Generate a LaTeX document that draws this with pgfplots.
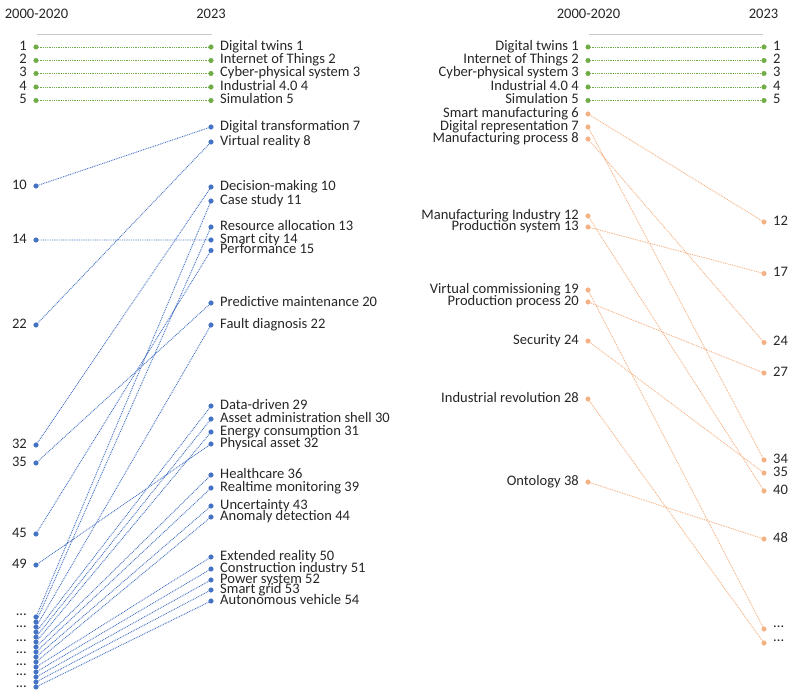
\documentclass[border=0pt]{standalone}
\usepackage{fontspec}
\setmainfont{Carlito}
\usepackage{pgfplots}
\pgfplotsset{compat=1.18}

\definecolor{dtgreen}{RGB}{112,173,71}
\definecolor{dtblue}{RGB}{68,114,196}
\definecolor{dtorange}{RGB}{244,177,131}
\definecolor{dttext}{RGB}{38,38,38}
\definecolor{dtrule}{RGB}{200,200,200}
\newcommand{\lab}{\fontsize{14.6}{14.6}\selectfont}

\pgfplotsset{
  slope/.style={line width=0.9pt, dash pattern=on 0.9pt off 0.9pt, unbounded coords=jump},
  dots/.style={only marks, mark=*, mark size=2.3pt},
  nomark/.style={draw=none, mark=none},
  labR/.style={nodes near coords, point meta=explicit symbolic,
    every node near coord/.append style={anchor=west, xshift=9bp, inner sep=0pt,
      font=\lab, text=dttext, text height=0.85em, text depth=0.21em}},
  labL/.style={nodes near coords, point meta=explicit symbolic,
    every node near coord/.append style={anchor=east, xshift=-9bp, inner sep=0pt,
      font=\lab, text=dttext, text height=0.85em, text depth=0.21em}},
}

\begin{document}
\begin{tikzpicture}
\path[use as bounding box] (0,0) rectangle (796bp,697bp);
\begin{axis}[
  at={(0,0)}, anchor=south west,
  width=796bp, height=697bp, scale only axis,
  xmin=0, xmax=796, ymin=0, ymax=697, y dir=reverse,
  hide axis, clip=false,
]
% headers and rules
\addplot[nomark, nodes near coords, point meta=explicit symbolic,
  every node near coord/.append style={anchor=center, inner sep=0pt, font=\lab, text=dttext}]
  coordinates {(36.5,14) [2000-2020] (211,14) [2023] (588.5,14) [2000-2020] (763.5,14) [2023]};
\addplot[dtrule, line width=0.8pt, unbounded coords=jump]
  coordinates {(37,34) (212,34) (nan,nan) (589,34) (763,34)};

% ---- left panel: 2023 view ----
\addplot[dtgreen, slope] coordinates {
  (36,47) (211,47) (nan,nan) (36,60.5) (211,60.5) (nan,nan)
  (36,73.5) (211,73.5) (nan,nan) (36,87) (211,87) (nan,nan)
  (36,100.5) (211,100.5)};
\addplot[dtblue, slope] coordinates {
  (36,186) (211,127) (nan,nan) (36,240) (211,240) (nan,nan)
  (36,325) (211,142) (nan,nan) (36,445) (211,187) (nan,nan)
  (36,463) (211,303) (nan,nan) (36,534) (211,250.5) (nan,nan)
  (36,565) (211,444) (nan,nan)
  (36,617) (211,201) (nan,nan) (36,622) (211,227) (nan,nan)
  (36,627) (211,325) (nan,nan) (36,632) (211,406) (nan,nan)
  (36,637) (211,419) (nan,nan) (36,642) (211,432) (nan,nan)
  (36,647) (211,475) (nan,nan) (36,652) (211,488) (nan,nan)
  (36,657) (211,506) (nan,nan) (36,662) (211,517) (nan,nan)
  (36,667) (211,557) (nan,nan) (36,672) (211,569) (nan,nan)
  (36,677) (211,580) (nan,nan) (36,682) (211,590) (nan,nan)
  (36,687) (211,601)};

\addplot[dots, dtgreen, labL] coordinates {
  (36,47) [1] (36,60.5) [2] (36,73.5) [3] (36,87) [4] (36,100.5) [5]};
\addplot[dots, dtgreen, labR] coordinates {
  (211,47) [Digital twins 1] (211,60.5) [Internet of Things 2]
  (211,73.5) [Cyber-physical system 3] (211,87) [Industrial 4.0 4]
  (211,100.5) [Simulation 5]};
\addplot[dots, dtblue, labL] coordinates {
  (36,186) [10] (36,240) [14] (36,325) [22] (36,445) [32]
  (36,463) [35] (36,534) [45] (36,565) [49]};
\addplot[dots, dtblue] coordinates {
  (36,617) (36,622) (36,627) (36,632) (36,637) (36,642) (36,647) (36,652)
  (36,657) (36,662) (36,667) (36,672) (36,677) (36,682) (36,687)};
\addplot[nomark, labL] coordinates {
  (36,612.5) [...] (36,624.5) [...] (36,638.5) [...] (36,650.5) [...]
  (36,662.5) [...] (36,672.5) [...] (36,684.5) [...]};
\addplot[dots, dtblue, labR] coordinates {
  (211,127) [Digital transformation 7] (211,142) [Virtual reality 8]
  (211,187) [Decision-making 10] (211,201) [Case study 11]
  (211,227) [Resource allocation 13] (211,240) [Smart city 14]
  (211,250.5) [Performance 15] (211,303) [Predictive maintenance 20]
  (211,325) [Fault diagnosis 22] (211,406) [Data-driven 29]
  (211,419) [Asset administration shell 30] (211,432) [Energy consumption 31]
  (211,444) [Physical asset 32] (211,475) [Healthcare 36]
  (211,488) [Realtime monitoring 39] (211,506) [Uncertainty 43]
  (211,517) [Anomaly detection 44] (211,557) [Extended reality 50]
  (211,569) [Construction industry 51] (211,580) [Power system 52]
  (211,590) [Smart grid 53] (211,601) [Autonomous vehicle 54]};

% ---- right panel: 2000-2020 view ----
\addplot[dtgreen, slope] coordinates {
  (588,47) (764,47) (nan,nan) (588,60.5) (764,60.5) (nan,nan)
  (588,73.5) (764,73.5) (nan,nan) (588,87) (764,87) (nan,nan)
  (588,100.5) (764,100.5)};
\addplot[dtorange, slope] coordinates {
  (588,114) (764,222) (nan,nan) (588,127) (764,460) (nan,nan)
  (588,139) (764,342.5) (nan,nan) (588,216) (764,491) (nan,nan)
  (588,227) (764,273.5) (nan,nan) (588,290) (764,629) (nan,nan)
  (588,302) (764,373) (nan,nan) (588,341) (764,473) (nan,nan)
  (588,399) (764,643) (nan,nan) (588,482) (764,539)};

\addplot[dots, dtgreen, labL] coordinates {
  (588,47) [Digital twins 1] (588,60.5) [Internet of Things 2]
  (588,73.5) [Cyber-physical system 3] (588,87) [Industrial 4.0 4]
  (588,100.5) [Simulation 5]};
\addplot[dots, dtgreen, labR] coordinates {
  (764,47) [1] (764,60.5) [2] (764,73.5) [3] (764,87) [4] (764,100.5) [5]};
\addplot[dots, dtorange, labL] coordinates {
  (588,114) [Smart manufacturing 6] (588,127) [Digital representation 7]
  (588,139) [Manufacturing process 8] (588,216) [Manufacturing Industry 12]
  (588,227) [Production system 13] (588,290) [Virtual commissioning 19]
  (588,302) [Production process 20] (588,341) [Security 24]
  (588,399) [Industrial revolution 28] (588,482) [Ontology 38]};
\addplot[dots, dtorange, labR] coordinates {
  (764,222) [12] (764,273.5) [17] (764,342.5) [24] (764,373) [27]
  (764,460) [34] (764,473) [35] (764,491) [40] (764,539) [48]};
\addplot[dots, dtorange] coordinates {(764,629) (764,643)};
\addplot[nomark, labR] coordinates {(764,624.5) [...] (764,638.5) [...]};
\end{axis}
\end{tikzpicture}
\end{document}
